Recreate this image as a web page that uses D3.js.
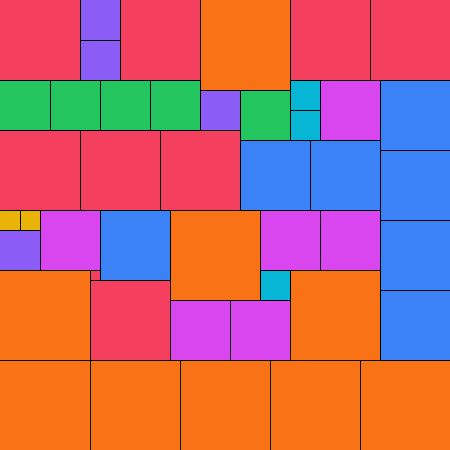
<!DOCTYPE html>
<html>
<head>
<meta charset="utf-8">
<script src="https://cdn.jsdelivr.net/npm/d3@7"></script>
<style>
  body { margin: 0; background: #fff; }
  svg { display: block; }
</style>
</head>
<body>
<svg id="chart"></svg>
<script>
var width = 450, height = 450;
var gridSize = 45; // board side, in units

// square side (units) for each square, in the order they get packed
var sides = [8,4,8,9,8,8,
             4,
             5,5,5,5,3,6,7,
             4,5,
             3,
             8,8,8,
             7,7,
             7,
             2,2,6,7,9,6,6,
             7,
             4,
             9,1,3,9,
             8,
             7,
             6,6,
             9,9,9,9,9];

var sideKeys = [1,2,3,4,5,6,7,8,9];
var sideColors = ["#f43f5e","#eab308","#06b6d4","#8b5cf6","#22c55e","#d946ef","#3b82f6","#f43f5e","#f97316"];

var color = d3.scaleOrdinal().domain(sideKeys).range(sideColors);
var x = d3.scaleLinear().domain([0, gridSize]).range([0, width]);
var y = d3.scaleLinear().domain([0, gridSize]).range([0, height]);

// first fit packing: scan rows top to bottom, columns left to right
var taken = d3.range(gridSize).map(function() { return d3.range(gridSize).map(function() { return false; }); });

function fits(c, r, s) {
    if (c + s > gridSize || r + s > gridSize) return false;
    for (var j = r; j < r + s; j++)
        for (var i = c; i < c + s; i++)
            if (taken[j][i]) return false;
    return true;
}

var squares = sides.map(function(s) {
    for (var r = 0; r < gridSize; r++) {
        for (var c = 0; c < gridSize; c++) {
            if (fits(c, r, s)) {
                for (var j = r; j < r + s; j++)
                    for (var i = c; i < c + s; i++) taken[j][i] = true;
                return {col: c, row: r, side: s};
            }
        }
    }
    return null;
}).filter(function(d) { return d; });

var svg = d3.select("#chart")
    .attr("width", width)
    .attr("height", height);

svg.append("g")
    .selectAll("rect")
    .data(squares)
    .enter()
    .append("rect")
        .attr("x", function(d) { return x(d.col); })
        .attr("y", function(d) { return y(d.row); })
        .attr("width", function(d) { return x(d.side) - x(0); })
        .attr("height", function(d) { return y(d.side) - y(0); })
        .attr("fill", function(d) { return color(d.side); });

// right and bottom edges only, so the outer frame stays clean
svg.append("g")
    .selectAll("path")
    .data(squares)
    .enter()
    .append("path")
        .attr("d", function(d) {
            var x0 = x(d.col), y0 = y(d.row);
            var x1 = x(d.col + d.side) + 0.5, y1 = y(d.row + d.side) + 0.5;
            return "M" + x1 + "," + y0 + "V" + y1 + "M" + x0 + "," + y1 + "H" + x1;
        })
        .attr("fill", "none")
        .attr("stroke", "#000")
        .attr("stroke-width", 1);
</script>
</body>
</html>
